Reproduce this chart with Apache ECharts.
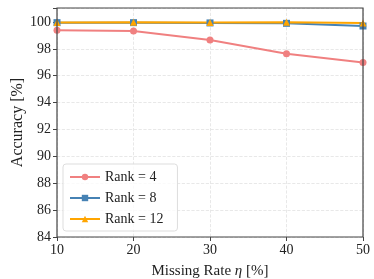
<!DOCTYPE html>
<html><head><meta charset="utf-8">
<script src="https://cdn.jsdelivr.net/npm/echarts@6/dist/echarts.min.js"></script>
<style>html,body{margin:0;padding:0;background:#fff}#c{width:374px;height:279px}</style>
</head><body><div id="c"></div>
<script>
const missingRate = [10, 20, 30, 40, 50];
const rank4 = [99.38, 99.33, 98.66, 97.64, 96.98];
const rank8 = [99.95, 99.95, 99.93, 99.9, 99.7];
const rank12 = [99.97, 99.98, 99.97, 99.98, 99.93];
const yTicks = [84, 86, 88, 90, 92, 94, 96, 98, 100];
const xTicks = [10, 20, 30, 40, 50];

const font = 'Liberation Serif';
const chart = echarts.init(document.getElementById('c'), null, {renderer: 'canvas'});
function pts(v){ return missingRate.map((x,i)=>[x, v[i]]); }
function ser(name, data, color, symbol, size){
  return {name, type:'line', data: pts(data), symbol, symbolSize: size,
    lineStyle:{color, width:2}, itemStyle:{color}, z: 3};
}
chart.setOption({
  animation:false,
  textStyle:{fontFamily:font},
  grid:{left:57, right:11, top:8, bottom:42, containLabel:false, outerBoundsMode:'none'},
  legend:{left:63, top:164, orient:'vertical', itemWidth:30, itemHeight:8, itemGap:7,
    backgroundColor:'rgba(255,255,255,0.8)', borderColor:'#ddd', borderWidth:1, borderRadius:3,
    padding:[6,14,5,6],
    textStyle:{fontFamily:font, fontSize:14, color:'#222'},
    data:['Rank = 4','Rank = 8','Rank = 12']},
  xAxis:{type:'value', min:10, max:50, interval:10,
    name:'Missing Rate {i|η} [%]', nameLocation:'middle', nameGap:27, nameMoveOverlap:false,
    nameTextStyle:{fontFamily:font, fontSize:15, color:'#222',
      rich:{i:{fontFamily:font, fontSize:15, fontStyle:'italic', color:'#222'}}},
    axisLine:{show:false},
    axisTick:{show:true, length:4, lineStyle:{color:'#444'}},
    axisLabel:{fontFamily:font, fontSize:14, color:'#222', margin:6,
      formatter: v => xTicks.includes(v) ? String(v) : ''},
    splitLine:{show:true, lineStyle:{color:'#e2e2e2', type:'dashed', width:0.8}}},
  yAxis:{type:'value', min:84, max:101.04, interval:2,
    name:'Accuracy [%]', nameLocation:'middle', nameGap:31, nameRotate:90, nameMoveOverlap:false,
    nameTextStyle:{fontFamily:font, fontSize:16, color:'#222'},
    axisLine:{show:false},
    axisTick:{show:true, length:4, lineStyle:{color:'#444'}},
    axisLabel:{fontFamily:font, fontSize:14, color:'#222', margin:6,
      formatter: v => yTicks.includes(v) ? String(v) : ''},
    splitLine:{show:true, lineStyle:{color:'#e2e2e2', type:'dashed', width:0.8}}},
  series:[
    ser('Rank = 4', rank4, '#F08080', 'circle', 7),
    ser('Rank = 8', rank8, '#4682B4', 'rect', 7),
    ser('Rank = 12', rank12, '#FFA500', 'triangle', 7)
  ],
  graphic:[{type:'rect', shape:{x:57, y:8, width:306, height:229}, style:{fill:'none', stroke:'#444', lineWidth:1.2}, z:10, silent:true}]
});
</script></body></html>
